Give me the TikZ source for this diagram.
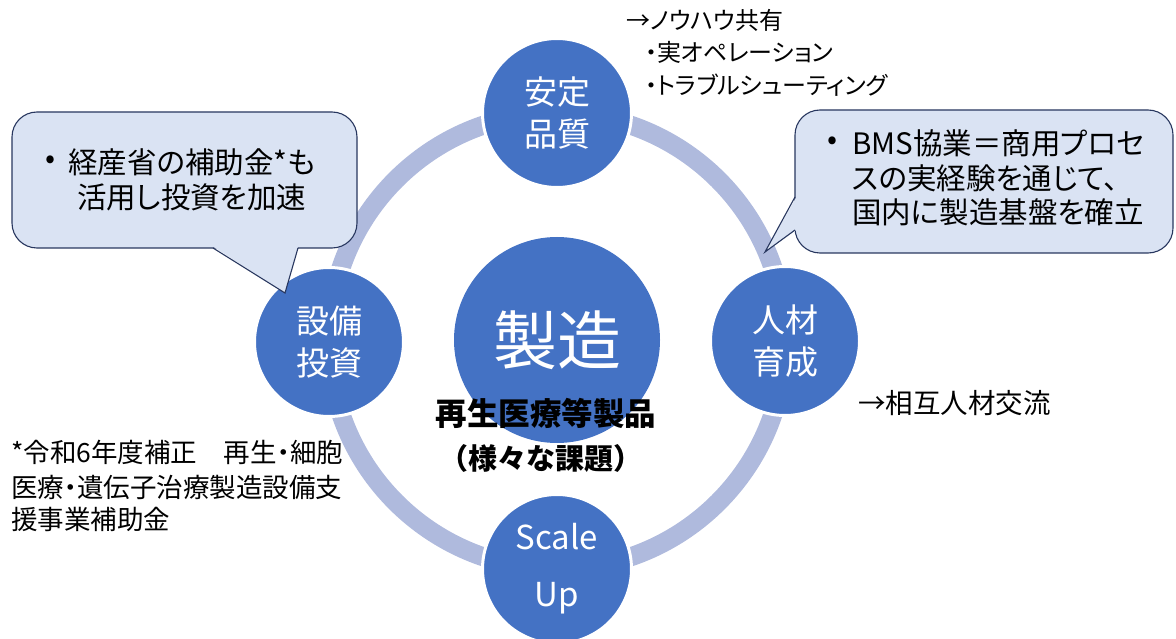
\documentclass[tikz,border=0pt]{standalone}
\usepackage{fontspec}
\setmainfont{Noto Sans CJK JP}[RawFeature=+palt]
\newfontfamily\fwfont{Noto Sans CJK JP}
\definecolor{nodeblue}{HTML}{4472C4}
\definecolor{ringblue}{HTML}{AFBADD}
\definecolor{callfill}{HTML}{DAE3F3}
\definecolor{callline}{RGB}{40,55,95}
\tikzset{
  smallc/.style={circle,fill=nodeblue,draw=white,line width=3pt,minimum size=149pt,inner sep=0pt,text=white,align=center,font=\fontsize{33}{42}\selectfont},
  bigc/.style={circle,fill=nodeblue,minimum size=206pt,inner sep=0pt,text=white,font=\fontsize{64}{70}\selectfont},
  ring/.style={draw=ringblue,line width=19pt},
  callbox/.style={fill=callfill,draw=callline,line width=1.1pt,rounded corners=25pt},
  calltxt/.style={anchor=west,inner sep=0pt,font=\fontsize{29.5}{35}\selectfont},
  smalltxt/.style={anchor=west,inner sep=0pt,font=\fontsize{24}{30}\selectfont},
  notetxt/.style={anchor=west,inner sep=0pt,font=\fontsize{26.5}{30}\selectfont},
  boldtxt/.style={inner sep=0pt,font=\fontsize{31.5}{36}\selectfont\bfseries},
}
\begin{document}
\begin{tikzpicture}[x=1pt,y=-1pt]
\useasboundingbox (0,0) rectangle (1176,639);
\clip (0,0) rectangle (1176,639);
\coordinate (C) at (557,341);
% ring
\draw[ring] (C) circle[radius=228pt];
% nodes
\node[bigc] (make) at (557,340) {製造};
\node[smallc] (qual) at (557,113) {安定\\品質};
\node[smallc] (hr) at (785,341) {人材\\育成};
\node[smallc] (inv) at (329,342) {設備\\投資};
\node[smallc,font=\fontsize{33}{57}\selectfont] (scale) at (557,569) {Scale\\Up};
% left callout
\draw[callbox] (12,112) rectangle (357,248);
\coordinate (ltip) at (285,293);
\coordinate (lb1) at (213,248);
\coordinate (lb2) at (298,248);
\fill[callfill] (213,246.6) -- (ltip) -- (298,246.6) -- cycle;
\draw[callline,line width=1.1pt,line join=miter] (lb1) -- (ltip) -- (lb2);
\node[calltxt,anchor=center] (lb) at (51,162) {•};
\node[calltxt] (l1) at (68,162) {経産省の補助金*も};
\node[calltxt] (l2) at (77,197) {活用し投資を加速};
% right callout
\draw[callbox] (795,110) rectangle (1173,253);
\coordinate (rtip) at (765,252);
\coordinate (rb1) at (795,197);
\coordinate (rb2) at (795,230);
\fill[callfill] (796.4,197) -- (rtip) -- (796.4,230) -- cycle;
\draw[callline,line width=1.1pt,line join=miter] (rb1) -- (rtip) -- (rb2);
\node[calltxt,anchor=center] (rbul) at (833,143) {•};
\node[calltxt] (r1) at (852,143) {BMS協業＝商用プロセ};
\node[calltxt] (r2) at (852,178) {スの実経験を通じて、};
\node[calltxt] (r3) at (852,212) {国内に製造基盤を確立};
% top right notes
\node[smalltxt] (t1) at (626,20) {→ノウハウ共有};
\node[smalltxt] (t2) at (645,52) {・実オペレーション};
\node[smalltxt] (t3) at (645,85) {・トラブルシューティング};
% right note
\node[notetxt,font=\fontsize{27.5}{30}\selectfont] (hrnote) at (858,403) {→相互人材交流};
% bottom-left note
\node[notetxt] (n1) at (11,452) {*令和6年度補正　再生・細胞};
\node[notetxt] (n2) at (11,487) {医療・遺伝子治療製造設備支};
\node[notetxt] (n3) at (11,519) {援事業補助金};
% bold
\node[boldtxt] (b1) at (546,413) {再生医療等製品};
\node[boldtxt,font=\fontsize{29}{36}\fwfont\bfseries] (b2) at (541,458) {（様々な課題）};
\end{tikzpicture}
\end{document}
